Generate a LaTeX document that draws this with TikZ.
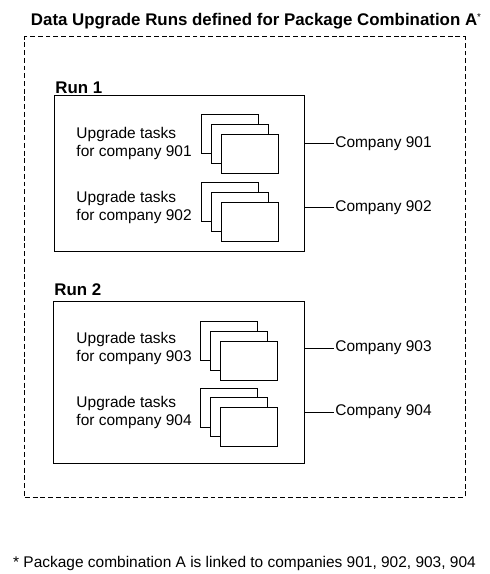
\documentclass[tikz,border=0pt]{standalone}
\usepackage{fontspec}
\setmainfont{Liberation Sans}
\usetikzlibrary{positioning}
\begin{document}
\begin{tikzpicture}[x=0.025cm,y=-0.025cm,line width=0.7pt,
    sheet node/.style={rectangle,draw,fill=white,minimum width=1.425cm,minimum height=0.975cm,inner sep=0pt},
    run node/.style={rectangle,draw,inner sep=0pt},
    task node/.style={align=left,anchor=west,inner sep=0pt,font=\fontsize{11}{12.8}\selectfont},
    company node/.style={anchor=west,inner sep=0.6pt,font=\fontsize{11}{12.8}\selectfont},
    head node/.style={inner sep=0pt,font=\fontsize{12}{14}\selectfont\bfseries}]
  \useasboundingbox (0,0) rectangle (490,574);
  \node[head node,anchor=base] (title) at (256,25) {Data Upgrade Runs defined for Package Combination A\raisebox{0.55ex}{\fontsize{7}{8}\selectfont\mdseries *}};
  \node[draw,dash pattern=on 3.5pt off 2pt,minimum width=11cm,minimum height=11.5cm,inner sep=0pt] (combo) at (245,267) {};

  \node[head node,anchor=base west] (r1) at (55,93) {Run 1};
  \node[run node,minimum width=6.225cm,minimum height=3.875cm] (run1) at (179.5,173.5) {};
  \node[head node,anchor=base west] (r2) at (54,295) {Run 2};
  \node[run node,minimum width=6.25cm,minimum height=4.025cm] (run2) at (179,382.5) {};

  % stacks of task sheets
  \foreach \i/\x/\y in {1/240/143.5,2/240/211.5,3/239/350.5,4/239/417}{
    \node[sheet node] (b\i) at (\x-10,\y-9.5) {};
    \node[sheet node] (m\i) at (\x,\y) {};
    \node[sheet node] (f\i) at (\x+10,\y+10) {};
  }

  \foreach \i/\y/\r in {1/143.5/run1,2/207.5/run1,3/348/run2,4/412/run2}{
    \node[task node] (t\i) at (76,\y) {Upgrade tasks\\for company 90\i};
    \node[company node] (c\i) at (334,\y) {Company 90\i};
    \path[-] (\r.east |- c\i.west) edge (c\i.west);
  }

  \node[anchor=base,inner sep=0pt,font=\fontsize{11}{12.8}\selectfont] (note) at (244.5,567) {* Package combination A is linked to companies 901, 902, 903, 904};
\end{tikzpicture}
\end{document}
